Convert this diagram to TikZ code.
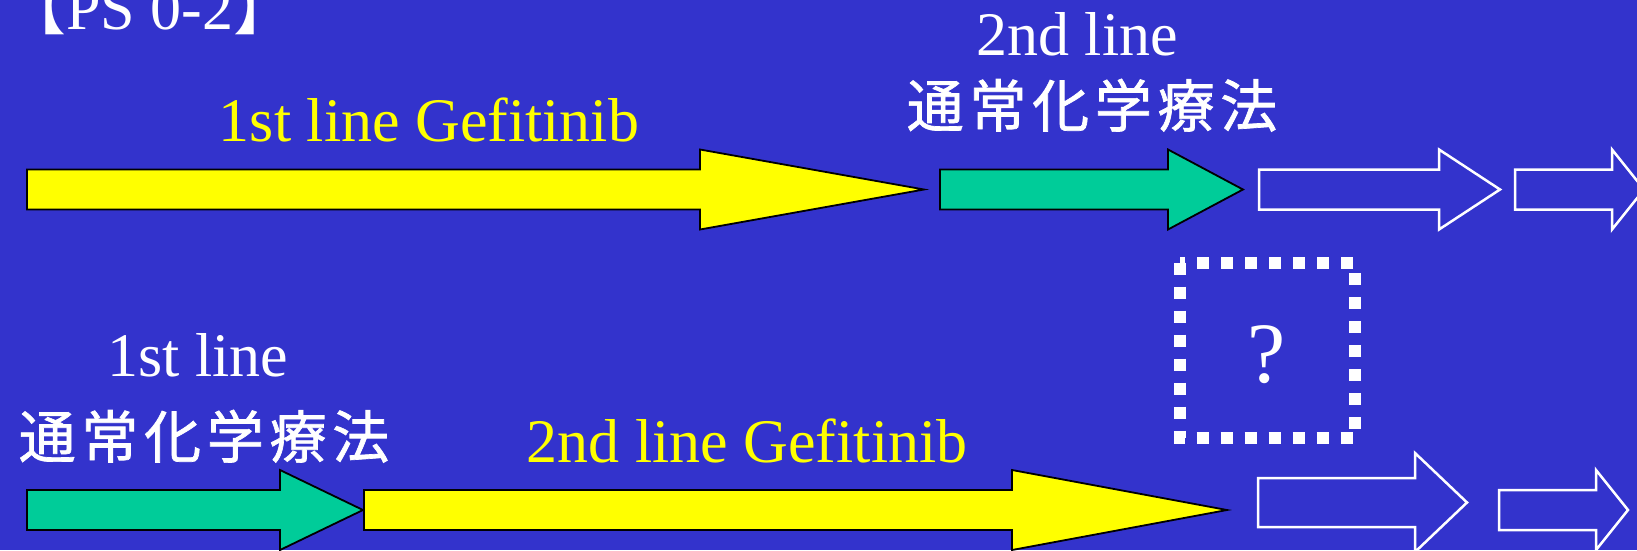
\documentclass[tikz,border=0pt]{standalone}
\usepackage{fontspec}
\setmainfont{Liberation Serif}
\newfontfamily\cjk[LetterSpace=10,FakeBold=1.2]{Noto Sans CJK JP}
\newfontfamily\cjkb{Noto Sans CJK JP}
\definecolor{bgblue}{RGB}{51,51,204}
\definecolor{ayellow}{RGB}{255,255,0}
\definecolor{agreen}{RGB}{0,204,153}
% #1 style, #2 x start, #3 head base x, #4 tip x, #5 centre y, #6 shaft half, #7 head half
\newcommand\blockarrow[7]{%
  \draw[#1] (#2,{#5-#6}) -- (#3,{#5-#6}) -- (#3,{#5-#7}) -- (#4,#5)
    -- (#3,{#5+#7}) -- (#3,{#5+#6}) -- (#2,{#5+#6}) -- cycle;}
\tikzset{
  yarrow/.style={fill=ayellow,draw=black,line width=1.8pt,line join=miter},
  garrow/.style={fill=agreen,draw=black,line width=1.8pt,line join=miter},
  warrow/.style={draw=white,line width=2.5pt,line join=miter},
  lbl/.style={inner sep=0pt,anchor=base,font=\fontsize{62}{70}\selectfont},
  cjklbl/.style={inner sep=0pt,anchor=base,font=\fontsize{57}{66}\selectfont\cjk},
}
\begin{document}
\begin{tikzpicture}[x=1pt,y=-1pt]
\useasboundingbox (0,0) rectangle (1637,550);
\fill[bgblue] (0,0) rectangle (1637,550);
\clip (0,0) rectangle (1637,550);
% title
\node[lbl,anchor=base west,text=white] (title) at (4,29) {{\cjkb 【}PS 0-2{\cjkb 】}};
% top row labels
\node[lbl,text=ayellow] (g1) at (429,141) {1st line Gefitinib};
\node[lbl,text=white] (l2) at (1077,55) {2nd line};
\node[cjklbl,text=white] (c2) at (1092,127) {通常化学療法};
% top row arrows
\blockarrow{yarrow}{27}{700}{924}{189.5}{20}{40}
\blockarrow{garrow}{940}{1168}{1243}{189.5}{20}{40}
\blockarrow{warrow}{1259}{1439}{1500}{189.5}{20}{40}
\blockarrow{warrow}{1515}{1612}{1644}{189.5}{20}{40}
% dotted box
\draw[white,line width=12pt,dash pattern=on 12pt off 12pt] (1180,262.5) rectangle (1355,438);
\node[inner sep=0pt,anchor=base,text=white,font=\fontsize{86}{90}\selectfont] (q) at (1267,382) {?};
% bottom row labels
\node[lbl,text=white] (l1) at (198,376) {1st line};
\node[cjklbl,text=white] (c1) at (204,458) {通常化学療法};
\node[lbl,text=ayellow] (g2) at (747,462) {2nd line Gefitinib};
% bottom row arrows
\blockarrow{garrow}{27}{280}{363}{510}{20}{40}
\blockarrow{yarrow}{364}{1012}{1227}{510}{20}{40}
\blockarrow{warrow}{1258}{1415}{1467}{502.5}{24.5}{49.5}
\blockarrow{warrow}{1499}{1596}{1628}{510}{20}{40}
\end{tikzpicture}
\end{document}
